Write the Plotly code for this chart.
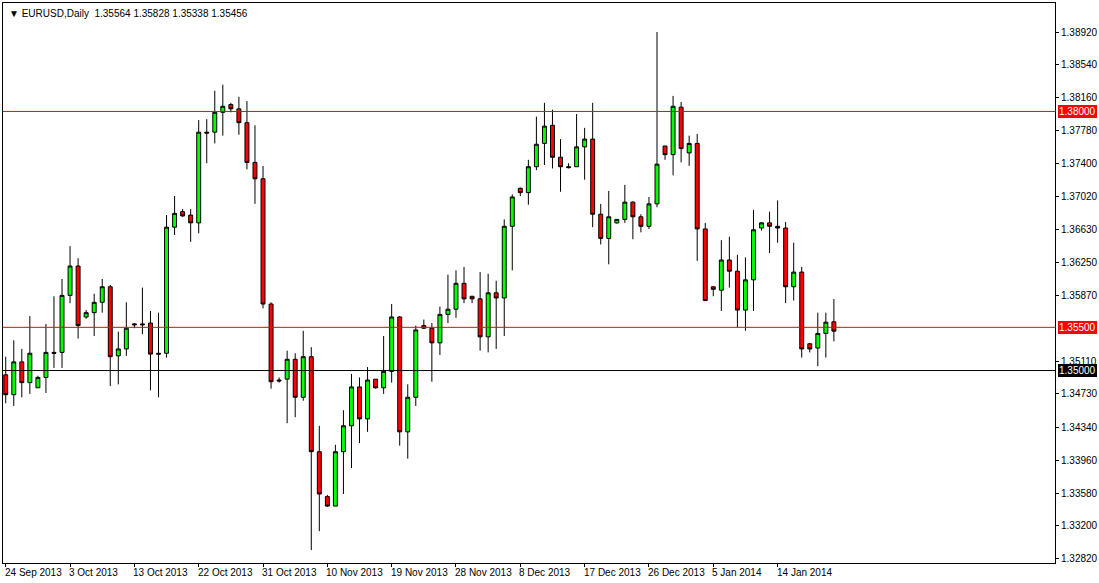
import plotly.graph_objects as go

opens = [1.3495,1.3472,1.3510,1.3486,1.3480,1.3492,1.3521,1.3521,1.3587,1.3621,
1.3562,1.3567,1.3579,1.3597,1.3517,1.3525,1.3554,1.3554,1.3555,1.3520,
1.3520,1.3666,1.3684,1.3680,1.3671,1.3776,1.3776,1.3799,1.3808,1.3803,
1.3787,1.3741,1.3722,1.3577,1.3489,1.3490,1.3513,1.3469,1.3516,1.3406,
1.3354,1.3343,1.3406,1.3436,1.3481,1.3444,1.3490,1.3480,1.3499,1.3562,
1.3429,1.3469,1.3552,1.3549,1.3532,1.3565,1.3571,1.3601,1.3586,1.3583,
1.3539,1.3590,1.3584,1.3667,1.3711,1.3706,1.3736,1.3763,1.3784,1.3747,
1.3736,1.3736,1.3759,1.3768,1.3681,1.3653,1.3671,1.3675,1.3695,1.3678,
1.3667,1.3693,1.3760,1.3750,1.3805,1.3752,1.3763,1.3664,1.3597,1.3593,
1.3628,1.3615,1.3570,1.3605,1.3665,1.3671,1.3667,1.3665,1.3597,1.3614,
1.3531,1.3526,1.3543,1.35564]
highs = [1.3516,1.3535,1.3525,1.3563,1.3494,1.3554,1.3586,1.3606,1.3644,1.3630,
1.3570,1.3589,1.3606,1.3599,1.3545,1.3579,1.3555,1.3596,1.3569,1.3567,
1.3680,1.3702,1.3687,1.3687,1.3790,1.3791,1.3824,1.3831,1.3810,1.3817,
1.3812,1.3784,1.3737,1.3579,1.3492,1.3523,1.3520,1.3546,1.3527,1.3436,
1.3356,1.3414,1.3454,1.3496,1.3492,1.3504,1.3490,1.3540,1.3577,1.3563,
1.3484,1.3552,1.3559,1.3555,1.3574,1.3611,1.3616,1.3620,1.3586,1.3614,
1.3612,1.3604,1.3675,1.3704,1.3712,1.3744,1.3794,1.3810,1.3802,1.3768,
1.3740,1.3797,1.3781,1.3810,1.3693,1.3708,1.3675,1.3715,1.3696,1.3681,
1.3701,1.3892,1.3760,1.3818,1.3811,1.3772,1.3774,1.3671,1.3597,1.3651,
1.3655,1.3634,1.3631,1.3686,1.3672,1.3684,1.3697,1.3672,1.3648,1.3620,
1.3532,1.3567,1.3567,1.35828]
lows = [1.3462,1.3459,1.3469,1.3473,1.3480,1.3474,1.3503,1.3503,1.3578,1.3537,
1.3560,1.3540,1.3567,1.3482,1.3484,1.3517,1.3549,1.3542,1.3477,1.3469,
1.3515,1.3657,1.3678,1.3649,1.3659,1.3740,1.3763,1.3772,1.3799,1.3773,
1.3733,1.3693,1.3572,1.3479,1.3486,1.3439,1.3446,1.3465,1.3292,1.3314,
1.3342,1.3343,1.3357,1.3387,1.3416,1.3429,1.3479,1.3473,1.3486,1.3413,
1.3398,1.3459,1.3548,1.3487,1.3518,1.3555,1.3561,1.3578,1.3578,1.3523,
1.3521,1.3525,1.3540,1.3616,1.3702,1.3692,1.3732,1.3738,1.3734,1.3707,
1.3734,1.3736,1.3721,1.3666,1.3646,1.3623,1.3670,1.3671,1.3652,1.3660,
1.3664,1.3689,1.3744,1.3726,1.3741,1.3737,1.3627,1.3581,1.3586,1.3569,
1.3596,1.3550,1.3546,1.3569,1.3662,1.3636,1.3648,1.3578,1.3581,1.3515,
1.3521,1.3505,1.3515,1.35338]
closes = [1.3472,1.3510,1.3486,1.3520,1.3492,1.3521,1.3520,1.3587,1.3621,1.3552,
1.3567,1.3579,1.3597,1.3516,1.3525,1.3549,1.3553,1.3553,1.3519,1.3519,
1.3666,1.3682,1.3679,1.3671,1.3776,1.3775,1.3799,1.3806,1.3803,1.3787,
1.3741,1.3722,1.3577,1.3487,1.3488,1.3513,1.3469,1.3516,1.3406,1.3357,
1.3343,1.3406,1.3436,1.3481,1.3444,1.3489,1.3480,1.3499,1.3562,1.3429,
1.3469,1.3547,1.3549,1.3532,1.3565,1.3571,1.3601,1.3583,1.3583,1.3539,
1.3590,1.3584,1.3667,1.3701,1.3706,1.3736,1.3762,1.3783,1.3747,1.3736,
1.3735,1.3759,1.3768,1.3681,1.3653,1.3678,1.3675,1.3695,1.3678,1.3667,
1.3693,1.3739,1.3750,1.3806,1.3757,1.3763,1.3664,1.3581,1.3594,1.3628,
1.3615,1.3570,1.3605,1.3663,1.3671,1.3667,1.3665,1.3597,1.3614,1.3525,
1.3525,1.3543,1.3556,1.35456]

date_labels = ["24 Sep 2013","3 Oct 2013","13 Oct 2013","22 Oct 2013","31 Oct 2013",
               "10 Nov 2013","19 Nov 2013","28 Nov 2013","8 Dec 2013","17 Dec 2013",
               "26 Dec 2013","5 Jan 2014","14 Jan 2014"]
y_ticks = [1.32820,1.33200,1.33580,1.33960,1.34340,1.34730,1.35110,1.35870,
           1.36250,1.36630,1.37020,1.37400,1.37780,1.38160,1.38540,1.38920]
levels = [1.38000, 1.35500, 1.35000]
level_colors = ["#ff0000", "#ff0000", "#000000"]

idx = list(range(len(opens)))
FONT = "Liberation Sans"

fig = go.Figure(go.Candlestick(
    x=idx, open=opens, high=highs, low=lows, close=closes,
    increasing=dict(fillcolor="#00ff00", line=dict(color="#000000", width=1)),
    decreasing=dict(fillcolor="#ff0000", line=dict(color="#000000", width=1)),
    whiskerwidth=0, showlegend=False, hoverinfo="skip"))

for lv, c in zip(levels, level_colors):
    fig.add_shape(type="line", xref="paper", x0=0, x1=1, y0=lv, y1=lv,
                  line=dict(color=c, width=1), layer="above")
    fig.add_annotation(xref="paper", x=1, y=lv, xanchor="left", yanchor="middle",
                       text=f"{lv:.5f}", showarrow=False, bgcolor=c, bordercolor=c,
                       borderpad=0, font=dict(color="white", size=10, family=FONT), xshift=3)

for i, lab in enumerate(date_labels):
    fig.add_annotation(xref="x", yref="paper", x=i * 8, y=0, xanchor="left", yanchor="top",
                       text=lab, showarrow=False, font=dict(size=10, family=FONT, color="black"),
                       xshift=-3, yshift=-2)

fig.add_annotation(xref="paper", yref="paper", x=0, y=1, xanchor="left", yanchor="top",
                   text="▼ EURUSD,Daily  1.35564 1.35828 1.35338 1.35456", showarrow=False,
                   font=dict(size=10, family=FONT, color="black"), xshift=4, yshift=-3)

fig.update_layout(
    width=1099, height=583, paper_bgcolor="white", plot_bgcolor="white",
    margin=dict(l=3, r=44, t=3, b=20, autoexpand=False),
    xaxis=dict(range=[-0.34, 130.5], showgrid=False, zeroline=False, showticklabels=False,
               rangeslider=dict(visible=False), showline=True, linecolor="black", mirror=True,
               ticks="outside", tickvals=[i * 8 for i in range(len(date_labels))], ticklen=3,
               tickcolor="black", automargin=False),
    yaxis=dict(range=[1.32771, 1.39256], side="right", showgrid=False, zeroline=False,
               tickvals=y_ticks, ticktext=[f"{v:.5f}" for v in y_ticks], ticks="outside",
               ticklen=3, tickcolor="black", showline=True, linecolor="black", mirror=True,
               automargin=False, tickfont=dict(size=10, family=FONT, color="black")),
)
fig.write_html("out.html", config={"displayModeBar": False},
               post_script="document.body.style.margin='0';document.body.style.overflow='hidden';")
